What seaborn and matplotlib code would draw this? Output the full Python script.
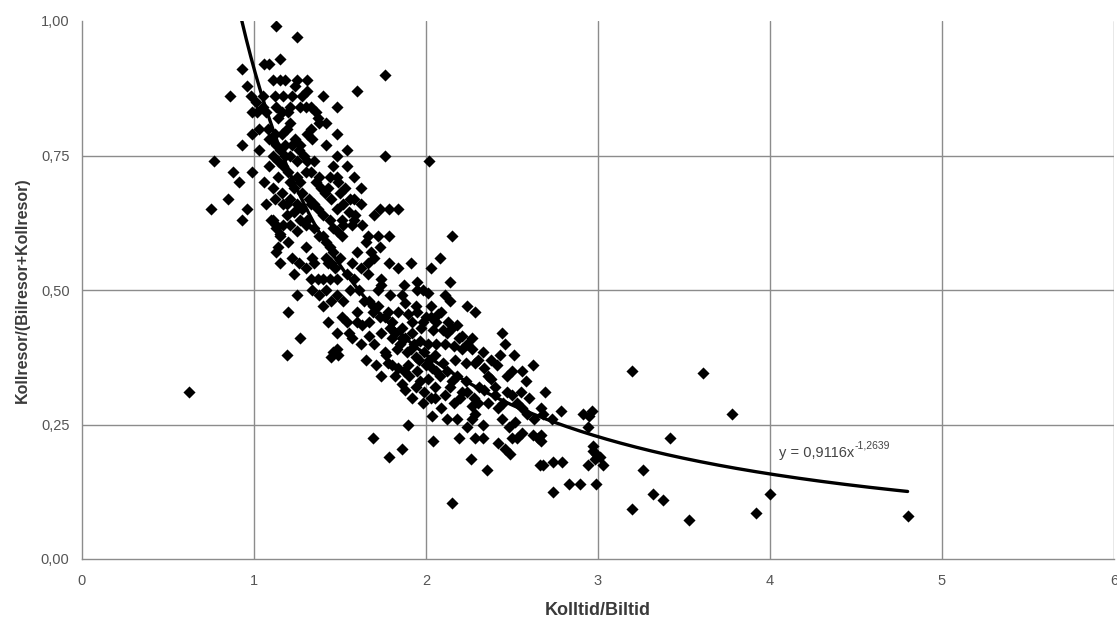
import numpy as np
import pandas as pd
import matplotlib
matplotlib.use("Agg")
import matplotlib.pyplot as plt
import seaborn as sns

# ---------------- data ----------------
kolltid_biltid = [
    # upper left cluster
    1.13, 1.25, 1.15, 1.09, 1.06, 0.93, 1.60, 0.86, 0.96, 0.98, 1.11, 1.15, 1.18, 1.25, 1.31,
    1.24, 1.31, 1.40, 1.48, 1.21, 1.27, 1.30, 0.99, 1.05, 1.02, 1.13, 1.16, 1.14, 1.21, 1.20,
    1.37, 1.42, 1.38, 1.33, 1.31, 1.34, 1.48, 1.42, 0.99, 0.93, 1.03, 1.09, 1.13, 1.11, 1.15,
    1.18, 1.21, 1.26, 1.25, 1.31, 1.48, 1.54, 0.77, 0.88, 0.99, 0.91, 1.06, 1.14, 1.11, 1.21,
    1.25, 1.27, 1.38, 1.44, 1.48, 1.49, 1.58, 1.62, 1.46, 1.54,
    1.76, 1.76, 2.02,
    # middle-left cluster
    0.75, 0.85, 0.96, 0.93, 1.13, 1.14, 1.10, 1.13, 1.17, 1.21, 1.25, 1.30, 1.20, 1.15, 1.30,
    1.34, 1.35, 1.33, 1.37, 1.40, 1.44, 1.48, 1.47, 1.43, 1.42, 1.46, 1.51, 1.48, 1.44, 1.52,
    1.57, 1.58, 1.62, 1.60, 1.57, 1.62, 1.56, 1.48, 1.52, 1.45, 1.60, 1.54, 1.60, 1.63, 1.48,
    1.55, 1.48, 1.46, 1.45, 1.49, 1.23, 1.25, 1.20, 1.27, 1.19, 1.17, 1.21, 1.25, 1.23, 1.28,
    1.33, 1.37, 1.40, 1.44, 1.48, 1.52, 1.55, 1.58, 1.19, 1.27, 1.31, 1.35, 1.40, 1.46, 1.51,
    1.11, 1.13, 1.15,
    # middle cluster
    1.73, 1.785, 1.84, 1.70, 2.15, 1.72, 1.785, 1.66, 1.73, 1.66, 1.785, 1.84, 1.91, 2.08, 2.03,
    2.14, 1.66, 1.74, 1.74, 1.87, 1.95, 1.98, 2.01, 1.72, 1.79, 1.86, 1.95, 1.67, 1.69, 1.88,
    1.94, 2.03, 2.11, 2.14, 2.09, 2.24, 2.285, 1.78, 1.84, 1.895, 1.95, 1.67, 1.73, 1.80, 1.86,
    1.92, 1.98, 2.03, 2.07, 2.13, 2.18, 2.04, 2.10, 2.15, 2.21, 2.27, 2.44, 2.46, 2.51, 2.62,
    1.67, 1.74, 1.80, 1.86, 1.92, 1.965, 2.01, 2.06, 2.11, 2.16, 2.21, 2.27, 2.33, 2.38, 2.43,
    1.70, 1.76, 1.83, 1.89, 1.94, 1.99, 2.05, 2.10, 2.17, 2.23, 2.285, 2.34, 2.50, 2.56, 1.78,
    1.84, 1.895, 1.95, 2.035,
    # lower middle cluster
    1.82, 1.86, 1.88, 1.92, 1.98, 1.965, 2.01, 2.05, 2.05, 2.09, 2.035, 2.12, 2.18, 2.16, 2.11,
    2.15, 2.21, 2.23, 2.27, 2.30, 2.285, 2.27, 2.33, 2.24, 2.285, 2.33, 2.34, 2.38, 2.40, 2.42,
    2.44, 2.48, 2.50, 2.42, 2.46, 2.49, 2.53, 2.56, 2.52, 2.56, 2.59, 2.62, 2.65, 2.58, 2.50,
    1.895, 1.69, 1.785, 1.86, 2.04, 2.19, 2.26, 2.355, 2.15, 2.66,
    # lower right cluster and tail
    2.69, 2.67, 2.68, 2.73, 2.785, 2.91, 2.965, 2.95, 2.94, 2.67, 2.67, 2.97, 2.97, 2.99, 3.01,
    2.98, 3.03, 2.94, 2.79, 2.74, 2.68, 2.83, 2.895, 2.99, 2.74, 3.42, 3.26, 3.32, 3.38, 3.20,
    3.53, 3.20, 3.61, 3.78, 4.00, 3.92, 4.80, 0.62,
    # overlapping points in the dense band
    1.08, 1.10, 1.12, 1.16, 1.18, 1.19, 1.22, 1.24, 1.27, 1.29, 1.30, 1.33, 1.35, 1.36, 1.39,
    1.41, 1.43, 1.45, 1.50, 1.53, 1.56, 1.59, 1.63, 1.65, 1.68, 1.70, 1.23, 1.20, 1.17, 1.14,
    1.28, 1.32, 1.35, 1.38, 1.42, 1.45, 1.50, 1.54, 1.58, 1.61, 1.64, 1.69, 1.72, 1.76, 1.79,
    1.82, 1.85, 1.88, 1.91, 1.93, 1.96, 2.00, 2.02, 2.06, 2.08, 2.12, 2.14, 2.18, 2.20, 2.24,
    2.28, 2.31, 2.36, 2.40, 2.45, 2.47, 2.53, 2.55, 2.60, 2.63, 1.40, 1.43, 1.51, 1.57, 1.62,
    1.65, 1.71, 1.74, 1.77, 1.80, 1.87, 1.90, 1.94, 1.99, 2.03, 1.97, 2.00, 2.06, 2.12, 2.19,
    2.24, 2.30, 2.36, 2.41, 2.47, 1.05, 1.07, 1.03, 1.01, 1.12, 1.17, 1.22, 1.28, 1.33, 1.36,
    1.09, 1.12, 1.16, 1.19, 1.07, 1.15, 1.22, 1.26, 1.30, 1.34, 1.38, 1.42,
]
kollandel = [
    0.99, 0.97, 0.93, 0.92, 0.92, 0.91, 0.87, 0.86, 0.88, 0.86, 0.89, 0.89, 0.89, 0.89, 0.89,
    0.88, 0.87, 0.86, 0.84, 0.84, 0.84, 0.84, 0.83, 0.84, 0.83, 0.84, 0.83, 0.82, 0.81, 0.83,
    0.82, 0.81, 0.81, 0.80, 0.79, 0.78, 0.79, 0.77, 0.79, 0.77, 0.76, 0.78, 0.77, 0.75, 0.76,
    0.75, 0.75, 0.76, 0.74, 0.74, 0.75, 0.76, 0.74, 0.72, 0.72, 0.70, 0.70, 0.71, 0.69, 0.70,
    0.71, 0.70, 0.71, 0.71, 0.71, 0.70, 0.71, 0.69, 0.73, 0.73,
    0.90, 0.75, 0.74,
    0.65, 0.67, 0.65, 0.63, 0.57, 0.58, 0.63, 0.62, 0.62, 0.62, 0.61, 0.62, 0.59, 0.60, 0.58,
    0.56, 0.55, 0.52, 0.52, 0.52, 0.52, 0.52, 0.54, 0.55, 0.56, 0.57, 0.60, 0.61, 0.58, 0.62,
    0.62, 0.63, 0.66, 0.57, 0.55, 0.54, 0.50, 0.49, 0.48, 0.48, 0.46, 0.44, 0.44, 0.435, 0.42,
    0.42, 0.39, 0.385, 0.375, 0.38, 0.53, 0.49, 0.46, 0.41, 0.38, 0.66, 0.67, 0.66, 0.645, 0.65,
    0.66, 0.65, 0.64, 0.63, 0.65, 0.66, 0.645, 0.67, 0.64, 0.63, 0.63, 0.615, 0.60, 0.615, 0.63,
    0.63, 0.615, 0.605,
    0.65, 0.65, 0.65, 0.64, 0.60, 0.60, 0.60, 0.60, 0.58, 0.55, 0.55, 0.54, 0.55, 0.56, 0.54,
    0.515, 0.53, 0.52, 0.51, 0.51, 0.515, 0.50, 0.495, 0.50, 0.49, 0.49, 0.50, 0.48, 0.47, 0.475,
    0.47, 0.47, 0.49, 0.48, 0.46, 0.47, 0.46, 0.46, 0.46, 0.455, 0.46, 0.44, 0.45, 0.44, 0.43,
    0.44, 0.44, 0.45, 0.455, 0.44, 0.435, 0.425, 0.425, 0.43, 0.415, 0.41, 0.42, 0.40, 0.38, 0.36,
    0.415, 0.42, 0.41, 0.41, 0.42, 0.405, 0.40, 0.40, 0.40, 0.395, 0.39, 0.39, 0.385, 0.37, 0.38,
    0.40, 0.385, 0.39, 0.385, 0.375, 0.385, 0.38, 0.365, 0.37, 0.365, 0.365, 0.355, 0.35, 0.35, 0.365,
    0.355, 0.36, 0.35, 0.355,
    0.34, 0.325, 0.315, 0.30, 0.29, 0.33, 0.335, 0.32, 0.30, 0.28, 0.265, 0.26, 0.26, 0.29, 0.305,
    0.33, 0.31, 0.33, 0.285, 0.29, 0.27, 0.26, 0.25, 0.245, 0.225, 0.225, 0.315, 0.335, 0.305, 0.28,
    0.26, 0.245, 0.225, 0.215, 0.205, 0.195, 0.225, 0.235, 0.255, 0.28, 0.27, 0.23, 0.225, 0.33, 0.305,
    0.25, 0.225, 0.19, 0.205, 0.22, 0.225, 0.185, 0.165, 0.105, 0.175,
    0.31, 0.28, 0.27, 0.26, 0.275, 0.27, 0.275, 0.265, 0.245, 0.23, 0.22, 0.21, 0.20, 0.195, 0.19,
    0.185, 0.175, 0.175, 0.18, 0.18, 0.175, 0.14, 0.14, 0.14, 0.125, 0.225, 0.165, 0.12, 0.11, 0.093,
    0.072, 0.35, 0.345, 0.27, 0.12, 0.085, 0.08, 0.31,
    0.80, 0.78, 0.79, 0.79, 0.77, 0.80, 0.77, 0.78, 0.77, 0.75, 0.72, 0.72, 0.74, 0.70, 0.69,
    0.68, 0.69, 0.67, 0.68, 0.69, 0.67, 0.64, 0.62, 0.59, 0.57, 0.56, 0.69, 0.72, 0.73, 0.74,
    0.68, 0.67, 0.66, 0.60, 0.59, 0.55, 0.56, 0.53, 0.52, 0.50, 0.48, 0.46, 0.47, 0.45, 0.43,
    0.42, 0.40, 0.41, 0.39, 0.40, 0.37, 0.36, 0.37, 0.35, 0.34, 0.35, 0.32, 0.34, 0.30, 0.31,
    0.30, 0.32, 0.29, 0.32, 0.29, 0.31, 0.29, 0.31, 0.30, 0.26, 0.47, 0.44, 0.45, 0.41, 0.40,
    0.37, 0.36, 0.34, 0.38, 0.36, 0.35, 0.34, 0.32, 0.31, 0.30, 0.43, 0.45, 0.44, 0.42, 0.41,
    0.40, 0.37, 0.34, 0.36, 0.34, 0.86, 0.83, 0.80, 0.85, 0.86, 0.86, 0.86, 0.86, 0.84, 0.83,
    0.73, 0.67, 0.68, 0.66, 0.66, 0.55, 0.56, 0.55, 0.54, 0.50, 0.49, 0.50,
]

# fitted power trendline shown in the chart
coef_a = 0.9116
coef_b = -1.2639
trend_x_start = 0.929
trend_x_end = 4.80
eq_main = "y = 0,9116x"
eq_exp = "-1,2639"

x_ticks = [0, 1, 2, 3, 4, 5, 6]
y_ticks = [0.00, 0.25, 0.50, 0.75, 1.00]
y_tick_labels = ["0,00", "0,25", "0,50", "0,75", "1,00"]
x_label = "Kolltid/Biltid"
y_label = "Kollresor/(Bilresor+Kollresor)"

# ---------------- plotting ----------------
sns.set_theme(style="white")
plt.rcParams["font.family"] = ["Liberation Sans", "DejaVu Sans"]

df = pd.DataFrame({"x": kolltid_biltid, "y": kollandel})

fig = plt.figure(figsize=(11.17, 6.21), dpi=100)
ax = fig.add_axes([82 / 1117, 62 / 621, 1032 / 1117, 538 / 621])

grid_c = "#8c8c8c"
for xv in x_ticks[1:]:
    ax.axvline(xv, color=grid_c, lw=1.0, zorder=0)
for yv in y_ticks[1:-1]:
    ax.axhline(yv, color=grid_c, lw=1.0, zorder=0)

sns.scatterplot(data=df, x="x", y="y", marker="D", color="black",
                edgecolor="black", linewidth=0, s=38, ax=ax, zorder=3)

tx = np.linspace(trend_x_start, trend_x_end, 300)
trend = pd.DataFrame({"x": tx, "y": coef_a * tx ** coef_b})
sns.lineplot(data=trend, x="x", y="y", color="black", lw=2.4, ax=ax,
             zorder=4, sort=False, estimator=None)

ax.set_xlim(0, 6)
ax.set_ylim(0, 1.0)
ax.set_xticks(x_ticks)
ax.set_xticklabels([str(v) for v in x_ticks])
ax.set_yticks(y_ticks)
ax.set_yticklabels(y_tick_labels)

for s in ["top", "right"]:
    ax.spines[s].set_visible(False)
for s in ["left", "bottom"]:
    ax.spines[s].set_color(grid_c)
    ax.spines[s].set_linewidth(1.0)

ax.tick_params(axis="both", direction="out", length=5, width=1.0,
               color=grid_c, labelcolor="#555555", labelsize=10.5)
ax.tick_params(axis="x", pad=6)
ax.tick_params(axis="y", pad=4)

ax.set_xlabel(x_label, fontsize=13, fontweight="bold", color="#3a3a3a", labelpad=10)
ax.set_ylabel(y_label, fontsize=11.5, fontweight="bold", color="#3a3a3a", labelpad=8)

t_main = ax.text(4.05, 0.19, eq_main, fontsize=10.5, color="#444444",
                 ha="left", va="baseline", zorder=5)
ax.annotate(eq_exp, xy=(1.0, 1.0), xycoords=t_main, xytext=(0.5, 0.5),
            textcoords="offset points", fontsize=7.5, color="#444444",
            ha="left", va="center", zorder=5)

fig.savefig("out.png", dpi=100)
